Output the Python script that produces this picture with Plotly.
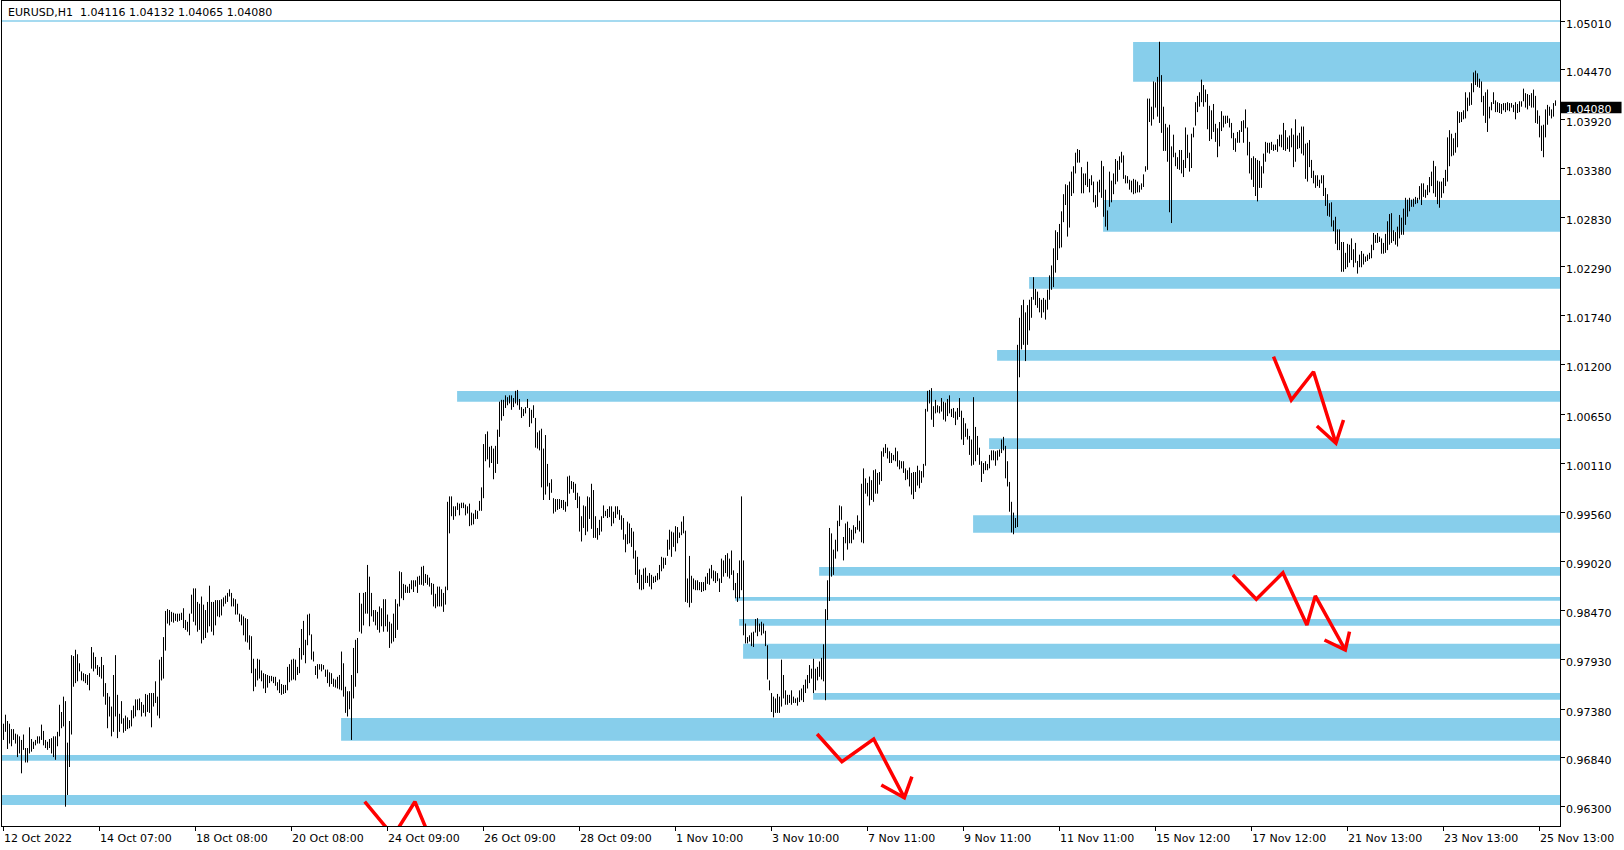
import plotly.graph_objects as go

# ---------------- data ----------------
SYMBOL = "EURUSD,H1"
LAST_OHLC = [1.04116, 1.04132, 1.04065, 1.04080]

# hourly bar highs / lows, in pips (1e-4)
HIGH_PIPS = [
    9722, 9732, 9725, 9722, 9716, 9716, 9711, 9710, 9708, 9704,
    9710, 9695, 9695, 9718, 9705, 9702, 9704, 9708, 9708, 9721,
    9714, 9704, 9702, 9705, 9706, 9708, 9708, 9713, 9743, 9735,
    9752, 9747, 9701, 9725, 9798, 9797, 9804, 9799, 9789, 9780,
    9778, 9777, 9776, 9778, 9807, 9801, 9796, 9787, 9785, 9796,
    9787, 9767, 9756, 9752, 9741, 9776, 9798, 9754, 9733, 9747,
    9728, 9731, 9729, 9726, 9737, 9742, 9749, 9749, 9750, 9746,
    9743, 9755, 9754, 9756, 9756, 9756, 9769, 9752, 9793, 9796,
    9818, 9847, 9849, 9848, 9846, 9845, 9844, 9844, 9844, 9845,
    9850, 9837, 9835, 9844, 9865, 9872, 9872, 9857, 9855, 9863,
    9854, 9848, 9857, 9875, 9857, 9857, 9859, 9859, 9859, 9860,
    9862, 9864, 9867, 9871, 9867, 9861, 9860, 9855, 9844, 9843,
    9841, 9839, 9838, 9820, 9819, 9794, 9783, 9794, 9793, 9781,
    9778, 9777, 9776, 9775, 9775, 9774, 9774, 9768, 9771, 9766,
    9765, 9765, 9785, 9788, 9793, 9794, 9793, 9785, 9806, 9827,
    9836, 9815, 9843, 9844, 9821, 9802, 9786, 9788, 9788, 9788,
    9787, 9782, 9782, 9779, 9778, 9772, 9771, 9774, 9776, 9802,
    9789, 9763, 9758, 9758, 9776, 9806, 9815, 9817, 9867, 9855,
    9867, 9868, 9898, 9885, 9867, 9848, 9848, 9846, 9852, 9850,
    9860, 9860, 9843, 9835, 9833, 9844, 9860, 9855, 9891, 9890,
    9877, 9876, 9874, 9877, 9881, 9881, 9881, 9885, 9886,
    9896, 9897, 9888, 9887, 9884, 9878, 9877, 9866, 9874, 9874,
    9871, 9867, 9874, 9968, 9974, 9974, 9963, 9963, 9967, 9966,
    9967, 9967, 9965, 9963, 9966, 9956, 9955, 9959, 9958, 9969,
    9984, 10032, 10043, 10046, 10029, 10030, 10027, 10030, 10048, 10079,
    10081, 10081, 10086, 10084, 10086, 10086, 10083, 10091, 10092, 10082,
    10073, 10071, 10073, 10082, 10072, 10070, 10075, 10061, 10045, 10047,
    10049, 10027, 10042, 10010, 9989, 9993, 9972, 9971, 9971, 9971,
    9970, 9970, 9968, 9996, 9997, 9991, 9990, 9988, 9978, 9974,
    9952, 9964, 9963, 9974, 9973, 9988, 9981, 9952, 9939, 9948,
    9952, 9964, 9958, 9960, 9963, 9963, 9957, 9963, 9963, 9959,
    9953, 9950, 9932, 9946, 9944, 9939, 9935, 9914, 9907, 9893,
    9887, 9894, 9895, 9886, 9889, 9887, 9885, 9886, 9889, 9898,
    9907, 9906, 9906, 9926, 9937, 9935, 9934, 9941, 9940, 9934,
    9946, 9952, 9936, 9883, 9908, 9886, 9883, 9881, 9881, 9879,
    9879, 9879, 9885, 9889, 9894, 9898, 9892, 9891, 9889, 9883,
    9905, 9903, 9909, 9911, 9905, 9914, 9892, 9878, 9889, 9903,
    9974, 9903, 9833, 9818, 9820, 9823, 9824, 9838, 9839, 9833,
    9835, 9833, 9825, 9809, 9770, 9756, 9752, 9750, 9755, 9752,
    9793, 9776, 9759, 9754, 9754, 9759, 9752, 9750, 9751, 9759,
    9761, 9765, 9771, 9776, 9787, 9783, 9794, 9783, 9785, 9791,
    9795, 9810, 9849, 9881, 9939, 9933, 9915, 9926, 9947, 9964,
    9963, 9929, 9944, 9946, 9939, 9937, 9942, 9940, 9953, 9947,
    9988, 10005, 9994, 9989, 9996, 9992, 10003, 10004, 10000, 10001,
    10024, 10028, 10032, 10028, 10024, 10022, 10020, 10028, 10024, 10014,
    10013, 10013, 10005, 10003, 10006, 10000, 10001, 10001, 10008, 10003,
    10002, 10010, 10071, 10091, 10092, 10094, 10074, 10081, 10075, 10074,
    10083, 10079, 10078, 10082, 10086, 10071, 10072, 10068, 10072, 10083,
    10069, 10061, 10055, 10049, 10041, 10037, 10084, 10051, 10041, 10028,
    10013, 10011, 10013, 10010, 10020, 10025, 10025, 10024, 10025, 10026,
    10037, 10040, 10030, 10013, 9990, 9968, 9956, 9950, 10142, 10172,
    10186, 10192, 10178, 10186, 10192,
    10195, 10217, 10204, 10201, 10194, 10192, 10194, 10192, 10203, 10219,
    10230, 10249, 10269, 10267, 10276, 10290, 10309, 10320, 10319, 10323,
    10334, 10340, 10355, 10359, 10358, 10339, 10332, 10332, 10345, 10326,
    10330, 10323, 10308, 10323, 10325, 10346, 10340, 10314, 10291, 10334,
    10324, 10332, 10348, 10346, 10351, 10356, 10352, 10330, 10329, 10325,
    10324, 10326, 10325, 10323, 10319, 10321, 10331, 10340, 10415, 10415,
    10406, 10434, 10433, 10439, 10478, 10441, 10406, 10387, 10383, 10386,
    10362, 10375, 10355, 10350, 10358, 10358, 10347, 10383, 10375, 10355,
    10376, 10383, 10411, 10418, 10422, 10436, 10430, 10425, 10420, 10407,
    10402, 10409, 10387, 10382, 10389, 10401, 10396, 10396, 10396, 10393,
    10388, 10377, 10371, 10378, 10380, 10390, 10391, 10403, 10383, 10367,
    10349, 10351, 10349, 10347, 10346, 10340, 10354, 10367, 10366, 10366,
    10367, 10364, 10364, 10370, 10375, 10375, 10388, 10380, 10372, 10374,
    10382, 10375, 10392, 10374, 10377, 10384, 10384, 10365, 10366, 10369,
    10347, 10335, 10330, 10330, 10325, 10330, 10330, 10316, 10309, 10299,
    10300, 10280, 10284, 10270, 10270, 10256, 10256, 10244, 10254, 10253,
    10260, 10248, 10255, 10235, 10242, 10246, 10243, 10240, 10242, 10244,
    10253, 10266, 10264, 10266, 10262, 10260, 10255, 10265, 10279, 10287,
    10288, 10269, 10267, 10273, 10286, 10283, 10293, 10305, 10303, 10305,
    10303, 10304, 10306, 10305, 10318, 10321, 10321, 10314, 10319, 10328,
    10334, 10346, 10340, 10324, 10323, 10323, 10327, 10336, 10372, 10380,
    10376, 10371, 10377, 10401, 10400, 10400, 10402, 10422, 10416, 10422,
    10432, 10444, 10446, 10443, 10437, 10434, 10418, 10422, 10425, 10406,
    10411, 10422, 10413, 10411, 10410, 10409, 10410, 10410, 10411, 10410,
    10410, 10408, 10411, 10409, 10412, 10412, 10426, 10421, 10420, 10419,
    10421, 10425, 10418, 10402, 10396, 10385, 10386, 10403, 10408, 10406,
    10403, 10410, 10413,
]

LOW_PIPS = [
    9704, 9713, 9694, 9700, 9697, 9704, 9700, 9685, 9689, 9667,
    9693, 9679, 9679, 9689, 9691, 9694, 9698, 9700, 9700, 9704,
    9698, 9695, 9693, 9695, 9689, 9685, 9682, 9697, 9708, 9717,
    9719, 9630, 9643, 9674, 9710, 9763, 9767, 9769, 9780, 9770,
    9769, 9767, 9765, 9759, 9783, 9780, 9783, 9776, 9774, 9772,
    9752, 9743, 9717, 9730, 9708, 9713, 9730, 9706, 9713, 9722,
    9712, 9714, 9716, 9717, 9719, 9728, 9730, 9737, 9737, 9730,
    9734, 9730, 9735, 9734, 9718, 9741, 9745, 9731, 9728, 9770,
    9772, 9803, 9833, 9831, 9835, 9834, 9836, 9835, 9836, 9837,
    9828, 9826, 9824, 9820, 9844, 9835, 9831, 9824, 9826, 9811,
    9815, 9817, 9823, 9830, 9824, 9820, 9831, 9841, 9840, 9842,
    9852, 9855, 9857, 9863, 9852, 9852, 9843, 9843, 9835, 9831,
    9820, 9813, 9812, 9804, 9778, 9758, 9763, 9770, 9772, 9769,
    9761, 9756, 9762, 9767, 9769, 9767, 9764, 9759, 9756, 9754,
    9755, 9756, 9759, 9768, 9770, 9771, 9770, 9776, 9778, 9793,
    9798, 9789, 9809, 9820, 9793, 9791, 9776, 9772, 9782, 9780,
    9782, 9774, 9767, 9763, 9766, 9763, 9762, 9761, 9760, 9759,
    9752, 9734, 9730, 9738, 9704, 9750, 9763, 9778, 9824, 9822,
    9831, 9844, 9844, 9830, 9841, 9835, 9831, 9826, 9823, 9830,
    9824, 9830, 9824, 9806, 9811, 9813, 9817, 9826, 9852, 9861,
    9859, 9867, 9867, 9867, 9871, 9868, 9874, 9867, 9876,
    9876, 9875, 9878, 9876, 9874, 9865, 9852, 9850, 9852, 9852,
    9852, 9846, 9854, 9870, 9933, 9952, 9948, 9952, 9959, 9953,
    9961, 9961, 9953, 9955, 9941, 9942, 9943, 9949, 9949, 9958,
    9958, 9972, 10013, 10015, 10006, 10011, 9993, 10000, 10010, 10040,
    10058, 10063, 10072, 10075, 10077, 10070, 10073, 10077, 10075, 10070,
    10061, 10063, 10066, 10072, 10051, 10055, 10061, 10028, 10027, 10025,
    9984, 9970, 9976, 9985, 9970, 9978, 9955, 9957, 9959, 9960,
    9961, 9959, 9957, 9963, 9977, 9982, 9978, 9970, 9961, 9935,
    9924, 9939, 9931, 9935, 9949, 9938, 9928, 9928, 9926, 9931,
    9935, 9950, 9952, 9950, 9951, 9941, 9944, 9950, 9954, 9948,
    9937, 9926, 9912, 9921, 9922, 9918, 9905, 9887, 9878, 9871,
    9870, 9871, 9878, 9878, 9874, 9871, 9878, 9879, 9881, 9882,
    9891, 9894, 9898, 9908, 9915, 9907, 9918, 9913, 9922, 9928,
    9931, 9933, 9857, 9856, 9851, 9856, 9871, 9870, 9870, 9870,
    9868, 9869, 9870, 9877, 9876, 9883, 9880, 9878, 9880, 9868,
    9878, 9885, 9889, 9885, 9883, 9887, 9870, 9861, 9857, 9861,
    9870, 9820, 9811, 9811, 9813, 9808, 9807, 9823, 9819, 9824,
    9820, 9822, 9808, 9771, 9759, 9735, 9729, 9734, 9734, 9734,
    9741, 9750, 9743, 9743, 9745, 9743, 9745, 9745, 9742, 9746,
    9748, 9746, 9756, 9761, 9767, 9772, 9756, 9759, 9770, 9774,
    9771, 9769, 9748, 9837, 9858, 9885, 9887, 9905, 9913, 9941,
    9948, 9903, 9922, 9915, 9922, 9922, 9926, 9933, 9937, 9935,
    9923, 9922, 9977, 9974, 9964, 9970, 9968, 9977, 9977, 9987,
    9991, 10018, 10022, 10016, 10011, 10011, 10014, 10013, 10007, 10004,
    10005, 10000, 9992, 9993, 9985, 9976, 9971, 9979, 9986, 9983,
    9989, 9995, 10008, 10068, 10077, 10059, 10051, 10066, 10067, 10066,
    10068, 10059, 10057, 10063, 10066, 10062, 10061, 10053, 10059, 10062,
    10037, 10031, 10040, 10037, 10020, 10008, 10009, 10013, 10020, 10009,
    9990, 9999, 10003, 10003, 10005, 10014, 10014, 10008, 10014, 10018,
    10022, 10025, 9994, 9985, 9957, 9934, 9932, 9939, 9940, 10106,
    10137, 10142, 10124, 10142, 10158,
    10172, 10192, 10186, 10183, 10178, 10172, 10178, 10170, 10181, 10192,
    10203, 10206, 10222, 10236, 10249, 10250, 10278, 10297, 10262, 10272,
    10307, 10310, 10332, 10344, 10344, 10310, 10310, 10319, 10317, 10311,
    10319, 10300, 10294, 10295, 10311, 10305, 10284, 10273, 10269, 10295,
    10300, 10309, 10320, 10323, 10336, 10344, 10326, 10321, 10321, 10314,
    10311, 10309, 10310, 10311, 10311, 10314, 10317, 10334, 10336, 10389,
    10385, 10392, 10405, 10395, 10388, 10377, 10357, 10357, 10345, 10289,
    10277, 10350, 10340, 10337, 10336, 10332, 10328, 10338, 10349, 10334,
    10338, 10372, 10385, 10400, 10406, 10411, 10406, 10411, 10381, 10368,
    10370, 10378, 10367, 10350, 10362, 10379, 10383, 10387, 10388, 10383,
    10371, 10358, 10356, 10366, 10366, 10378, 10366, 10382, 10352, 10332,
    10325, 10317, 10307, 10301, 10316, 10316, 10332, 10345, 10355, 10354,
    10358, 10357, 10358, 10356, 10362, 10361, 10358, 10357, 10359, 10356,
    10361, 10339, 10345, 10359, 10360, 10354, 10352, 10326, 10323, 10339,
    10327, 10321, 10316, 10318, 10316, 10321, 10307, 10296, 10285, 10284,
    10273, 10268, 10254, 10247, 10247, 10223, 10223, 10226, 10228, 10233,
    10236, 10228, 10233, 10221, 10228, 10228, 10231, 10234, 10235, 10237,
    10238, 10247, 10255, 10255, 10256, 10243, 10243, 10244, 10247, 10253,
    10255, 10257, 10253, 10251, 10260, 10264, 10264, 10275, 10284, 10290,
    10295, 10295, 10298, 10299, 10303, 10297, 10306, 10305, 10308, 10311,
    10318, 10310, 10306, 10298, 10294, 10305, 10310, 10318, 10323, 10340,
    10351, 10352, 10355, 10361, 10388, 10389, 10392, 10393, 10401, 10407,
    10408, 10422, 10430, 10428, 10427, 10411, 10396, 10388, 10378, 10393,
    10402, 10409, 10400, 10400, 10399, 10398, 10402, 10400, 10402, 10401,
    10405, 10400, 10392, 10399, 10400, 10406, 10412, 10405, 10403, 10407,
    10405, 10405, 10388, 10387, 10372, 10357, 10350, 10372, 10386, 10396,
    10393, 10395, 10407,
]

TICK_HOURS = [0, 48, 96, 144, 192, 240, 288, 336, 384, 432, 480, 528, 576, 624, 672, 720, 768]
TICK_LABELS = ["12 Oct 2022", "14 Oct 07:00", "18 Oct 08:00", "20 Oct 08:00", "24 Oct 09:00",
               "26 Oct 09:00", "28 Oct 09:00", "1 Nov 10:00", "3 Nov 10:00", "7 Nov 11:00",
               "9 Nov 11:00", "11 Nov 11:00", "15 Nov 12:00", "17 Nov 12:00", "21 Nov 13:00",
               "23 Nov 13:00", "25 Nov 13:00"]
PRICE_TICKS = [1.05010, 1.04470, 1.03920, 1.03380, 1.02830, 1.02290, 1.01740, 1.01200,
               1.00650, 1.00110, 0.99560, 0.99020, 0.98470, 0.97930, 0.97380, 0.96840, 0.96300]

# supply/demand zones: start hour (None = from left edge), low, high
ZONE_START = [None, 564.8, 549.8, 512.8, 496.8, 226.8, 492.8, 484.8, 407.8,
              365.8, 367.8, 369.8, 404.8, 168.8, None, None]
ZONE_LOW = [1.05001, 1.04337, 1.02674, 1.02042, 1.01244, 1.00790, 1.00265, 0.99337, 0.98861,
            0.98583, 0.98306, 0.97940, 0.97486, 0.97032, 0.96810, 0.96319]
ZONE_HIGH = [1.05019, 1.04777, 1.03026, 1.02172, 1.01363, 1.00908, 1.00384, 0.99530, 0.98957,
             0.98624, 0.98381, 0.98107, 0.97560, 0.97283, 0.96873, 0.96429]

# hand-drawn red arrows (hour, price) paths
ARROW_PATHS = [
    ([635.0, 643.9, 655.0, 666.2], [1.01289, 1.00809, 1.01122, 1.00329]),
    ([656.7, 666.2, 670.0], [1.00520, 1.00329, 1.00587]),
    ([614.7, 626.4, 639.7, 651.7, 655.9, 670.9], [0.98869, 0.98599, 0.98894, 0.98314, 0.98636, 0.98037]),
    ([660.5, 670.9, 673.0], [0.98148, 0.98037, 0.98240]),
    ([406.8, 419.2, 435.1, 450.4], [0.97106, 0.96799, 0.97050, 0.96400]),
    ([438.9, 450.4, 454.2], [0.96540, 0.96400, 0.96633]),
    ([180.6, 194.9, 205.7, 213.9], [0.96355, 0.95975, 0.96355, 0.95920]),
]

# ---------------- figure ----------------
X_RANGE = [-0.75, 778.25]
Y_RANGE = [0.96086, 1.052317]
ZONE_COLOR = "#87CEEB"
FONT = dict(family="DejaVu Sans", size=11, color="black")

fig = go.Figure()

for start, lo, hi in zip(ZONE_START, ZONE_LOW, ZONE_HIGH):
    fig.add_shape(type="rect", xref="x", yref="y",
                  x0=X_RANGE[0] if start is None else start, x1=X_RANGE[1],
                  y0=lo, y1=hi, fillcolor=ZONE_COLOR, line=dict(width=0), layer="below")

assert len(HIGH_PIPS) == len(LOW_PIPS)
bx, by = [], []
for h, (hi, lo) in enumerate(zip(HIGH_PIPS, LOW_PIPS)):
    bx += [h, h, None]
    by += [lo / 1e4, hi / 1e4, None]
fig.add_trace(go.Scatter(x=bx, y=by, mode="lines", line=dict(color="black", width=1),
                         hoverinfo="skip", connectgaps=False))

for ax, ay in ARROW_PATHS:
    fig.add_trace(go.Scatter(x=ax, y=ay, mode="lines",
                             line=dict(color="#FF0000", width=3.5), hoverinfo="skip"))

fig.update_layout(
    width=1624, height=850,
    margin=dict(l=2, r=64, t=1, b=24),
    paper_bgcolor="white", plot_bgcolor="white",
    showlegend=False, font=FONT,
    xaxis=dict(range=X_RANGE, tickvals=TICK_HOURS, showticklabels=False,
               ticks="outside", ticklen=4, tickcolor="black",
               showline=True, linecolor="black", linewidth=1, mirror=True,
               showgrid=False, zeroline=False, fixedrange=True),
    yaxis=dict(range=Y_RANGE, side="right", tickvals=PRICE_TICKS, showticklabels=False,
               ticks="outside", ticklen=4, tickcolor="black",
               showline=True, linecolor="black", linewidth=1, mirror=True,
               showgrid=False, zeroline=False, fixedrange=True),
)

# time-scale labels: left-aligned at their tick, as in MT4
for h, lab in zip(TICK_HOURS, TICK_LABELS):
    fig.add_annotation(xref="x", yref="paper", x=h, y=0, xanchor="left", yanchor="top",
                       xshift=-2, yshift=-4, showarrow=False, font=FONT, text=lab)

# price-scale labels
for v in PRICE_TICKS:
    fig.add_annotation(xref="paper", yref="y", x=1, y=v, xanchor="left", yanchor="middle",
                       xshift=4, yshift=-3, showarrow=False, font=FONT, text=f"{v:.5f}")

# symbol / OHLC header
fig.add_annotation(xref="paper", yref="paper", x=0, y=1, xanchor="left", yanchor="top",
                   xshift=4, yshift=-3, showarrow=False, font=FONT,
                   text=SYMBOL + "  " + " ".join(f"{v:.5f}" for v in LAST_OHLC))

# current price label on the price scale
last = LAST_OHLC[3]
fig.add_shape(type="rect", xref="paper", yref="y", x0=1.0006, x1=1.0395,
              y0=last - 0.00093, y1=last + 0.00036, fillcolor="black", line=dict(width=0))
fig.add_annotation(xref="paper", yref="y", x=1, y=last - 0.000285, xanchor="left",
                   yanchor="middle", xshift=4, yshift=-2, showarrow=False,
                   font=dict(family="DejaVu Sans", size=11, color="white"),
                   text=f"{last:.5f}")

fig.write_html("out.html", config={"displayModeBar": False},
               post_script="document.body.style.margin='0px';")
